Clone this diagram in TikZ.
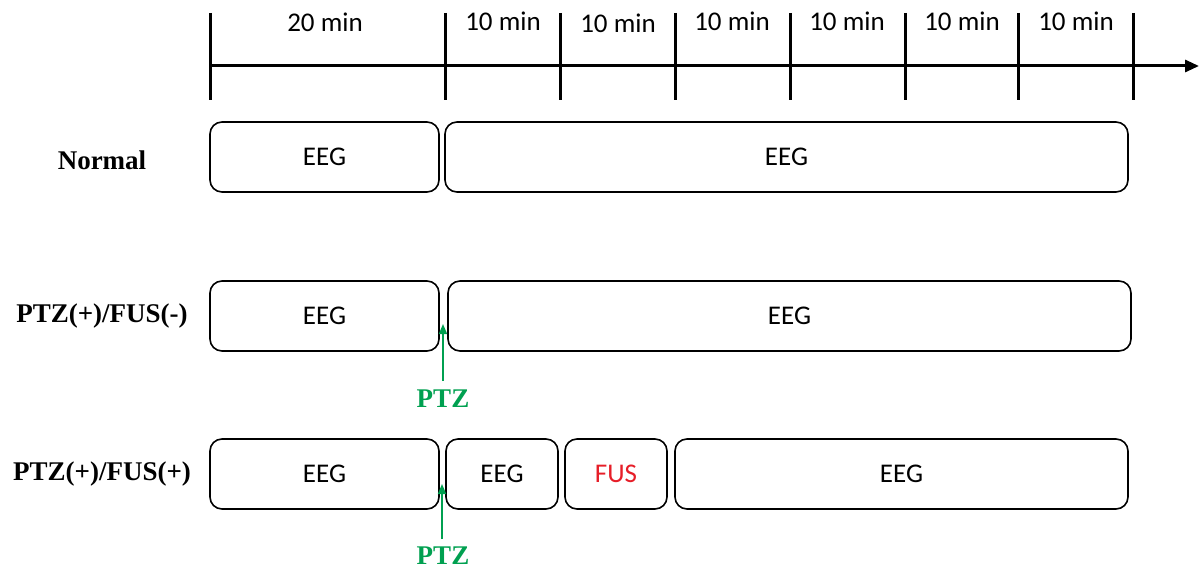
\documentclass[tikz,border=0pt]{standalone}
\usepackage{fontspec}
\setmainfont{Liberation Serif}
\newfontfamily\calib{Carlito}
\usetikzlibrary{arrows.meta}
\definecolor{ptzgreen}{RGB}{0,160,80}
\definecolor{fusred}{RGB}{230,30,40}
\tikzset{
  every picture/.style={x=1pt,y=-1pt},
  phase/.style={draw, line width=1.6pt, rounded corners=12pt, inner sep=0pt,
    minimum height=70pt, font=\calib\fontsize{27}{30}\selectfont},
  rowlabel/.style={font=\bfseries\fontsize{27}{30}\selectfont},
  ticklabel/.style={font=\calib\fontsize{27}{30}\selectfont},
  tick/.style={line width=3pt},
  axis/.style={line width=3pt, -{Triangle[length=14pt,width=12pt]}},
  drug/.style={ptzgreen, line width=1.6pt, -{Triangle[length=10pt,width=8pt]}},
  druglabel/.style={ptzgreen, font=\bfseries\fontsize{27}{30}\selectfont}
}
\begin{document}
\begin{tikzpicture}
\useasboundingbox (0,0) rectangle (1202,569);

% time axis and ticks
\coordinate (t0) at (210,66);
\coordinate (tend) at (1199,66);
\draw[axis] (t0) -- (tend);
\foreach \x in {210,445,560,675,790,905,1018,1133}
  \draw[tick] (\x,13) -- (\x,100);
\node[ticklabel] (l20) at (325,22) {20 min};
\node[ticklabel] (l1) at (503,21) {10 min};
\node[ticklabel] (l2) at (618,23) {10 min};
\node[ticklabel] (l3) at (732,21) {10 min};
\node[ticklabel] (l4) at (847,21) {10 min};
\node[ticklabel] (l5) at (962,21) {10 min};
\node[ticklabel] (l6) at (1076,21) {10 min};

% row: Normal
\node[rowlabel] (rn) at (102,160) {Normal};
\node[phase, minimum width=229pt] (n1) at (324.5,157) {EEG};
\node[phase, minimum width=683pt] (n2) at (786.5,157) {EEG};

% row: PTZ(+)/FUS(-)
\node[rowlabel] (rp) at (102,316) {PTZ(+)/FUS(-)};
\node[phase, minimum width=229pt] (p1) at (324.5,316) {EEG};
\node[phase, minimum width=683pt] (p2) at (789.5,316) {EEG};
\node[druglabel] (ptz1) at (443,399) {PTZ};
\coordinate (ptzin1) at (443,324);
\draw[drug] (443,381) -- (ptzin1);

% row: PTZ(+)/FUS(+)
\node[rowlabel] (rf) at (102,474) {PTZ(+)/FUS(+)};
\node[phase, minimum width=229pt] (f1) at (324.5,474) {EEG};
\node[phase, minimum width=112pt] (f2) at (502,474) {EEG};
\node[phase, minimum width=102pt, text=fusred] (f3) at (616,474) {FUS};
\node[phase, minimum width=453pt] (f4) at (901.5,474) {EEG};
\node[druglabel] (ptz2) at (443,556) {PTZ};
\coordinate (ptzin2) at (442,484);
\draw[drug] (442,539) -- (ptzin2);
\end{tikzpicture}
\end{document}
